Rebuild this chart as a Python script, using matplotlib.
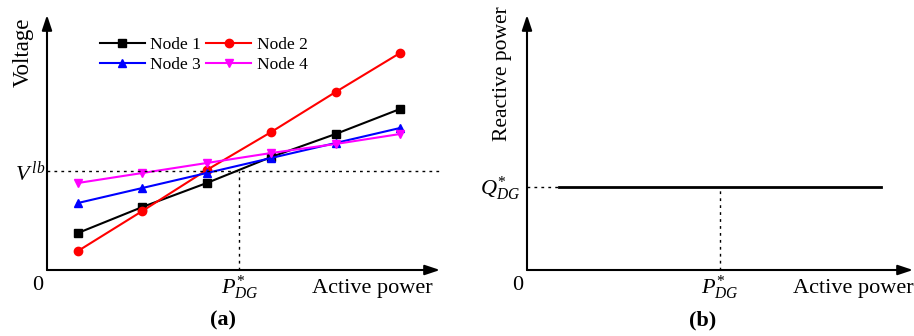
import matplotlib.pyplot as plt

plt.rcParams['font.family'] = 'Liberation Serif'
plt.rcParams['mathtext.fontset'] = 'custom'
plt.rcParams['mathtext.rm'] = 'Liberation Serif'
plt.rcParams['mathtext.it'] = 'Liberation Serif:italic'

# panel (a): voltage vs active power
steps = [1, 2, 3, 4, 5, 6]
node1 = [0.37, 0.63, 0.87, 1.13, 1.36, 1.61]
node2 = [0.19, 0.59, 1.00, 1.38, 1.78, 2.17]
node3 = [0.67, 0.82, 0.97, 1.12, 1.27, 1.42]
node4 = [0.87, 0.97, 1.07, 1.17, 1.26, 1.36]
v_lb = 0.99
p_dg_a = 3.5

# panel (b): reactive power vs active power
q_span = [0.5, 5.5]
q_dg = 0.83
p_dg_b = 3.0

fig = plt.figure(figsize=(9.14, 3.36), dpi=100)
W, H = 914, 336


def add_axes_px(x0, x1, ytop, ybot):
    return fig.add_axes([x0 / W, 1 - ybot / H, (x1 - x0) / W, (ybot - ytop) / H])


def draw_arrows(ax):
    for s in ax.spines.values():
        s.set_visible(False)
    ax.set_xticks([])
    ax.set_yticks([])
    ax.patch.set_alpha(0)
    x0, x1 = ax.get_xlim()
    y0, y1 = ax.get_ylim()
    kw = dict(arrowstyle='-|>,head_length=0.9,head_width=0.3', color='black', lw=1.5,
              shrinkA=0, shrinkB=0)
    ax.annotate('', xy=(x1, y0), xytext=(x0, y0), arrowprops=kw, annotation_clip=False)
    ax.annotate('', xy=(x0, y1), xytext=(x0, y0), arrowprops=kw, annotation_clip=False)


# ---- (a) ----
ax1 = add_axes_px(47, 440, 15, 270)
ax1.set_xlim(0.52, 6.62)
ax1.set_ylim(0, 2.55)
l1, = ax1.plot(steps, node1, '-s', color='black', lw=1.5, ms=5.5, label='Node 1')
l2, = ax1.plot(steps, node2, '-o', color='red', lw=1.5, ms=6, label='Node 2')
l3, = ax1.plot(steps, node3, '-^', color='blue', lw=1.5, ms=6, label='Node 3')
l4, = ax1.plot(steps, node4, '-v', color='magenta', lw=1.5, ms=6, label='Node 4')
ax1.plot([0.52, 6.62], [v_lb, v_lb], color='black', lw=1, ls=(0, (2, 3)))
ax1.plot([p_dg_a, p_dg_a], [0, v_lb], color='black', lw=1, ls=(0, (2, 3)))
draw_arrows(ax1)
# row-wise order: Node 1, Node 2 / Node 3, Node 4
ax1.legend([l1, l3, l2, l4], ['Node 1', 'Node 3', 'Node 2', 'Node 4'],
           ncol=2, loc='upper left', bbox_to_anchor=(0.117, 0.943), frameon=False,
           fontsize=12.5, handlelength=2.6, handletextpad=0.3, columnspacing=0.3,
           labelspacing=0.25, borderaxespad=0)

fig.text(23 / W, 1 - 52 / H, 'Voltage', rotation=90, fontsize=16.5, ha='center', va='center')
fig.text(30 / W, 1 - 173 / H, r'$V^{\,lb}$', fontsize=16, ha='center', va='center')
fig.text(38 / W, 1 - 285 / H, '0', fontsize=16, ha='center', va='center')
fig.text(240 / W, 1 - 288 / H, r'$P_{DG}^{*}$', fontsize=16, ha='center', va='center')
fig.text(372 / W, 1 - 289 / H, 'Active power', fontsize=16, ha='center', va='center')
fig.text(223 / W, 1 - 320 / H, '(a)', fontsize=16, fontweight='bold', ha='center', va='center')

# ---- (b) ----
ax2 = add_axes_px(527, 913, 15, 270)
ax2.set_xlim(0, 6.0)
ax2.set_ylim(0, 2.55)
ax2.plot(q_span, [q_dg, q_dg], color='black', lw=2)
ax2.plot([0, q_span[0]], [q_dg, q_dg], color='black', lw=1, ls=(0, (2, 3)))
ax2.plot([p_dg_b, p_dg_b], [0, q_dg], color='black', lw=1, ls=(0, (2, 3)))
draw_arrows(ax2)

fig.text(503 / W, 1 - 74 / H, 'Reactive power', rotation=90, fontsize=15.5, ha='center', va='center')
fig.text(500 / W, 1 - 189 / H, r'$Q_{DG}^{*}$', fontsize=16, ha='center', va='center')
fig.text(518 / W, 1 - 285 / H, '0', fontsize=16, ha='center', va='center')
fig.text(720 / W, 1 - 288 / H, r'$P_{DG}^{*}$', fontsize=16, ha='center', va='center')
fig.text(853 / W, 1 - 289 / H, 'Active power', fontsize=16, ha='center', va='center')
fig.text(703 / W, 1 - 320 / H, '(b)', fontsize=16, fontweight='bold', ha='center', va='center')

fig.savefig('out.png', dpi=100)
